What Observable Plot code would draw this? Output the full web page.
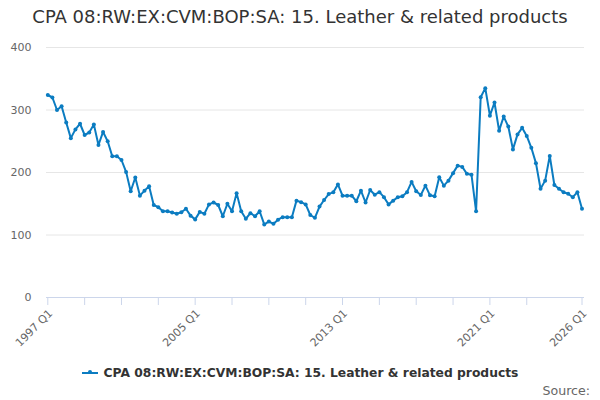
<!DOCTYPE html>
<html>
<head>
<meta charset="utf-8">
<script src="https://cdn.jsdelivr.net/npm/d3@7"></script>
<script src="https://cdn.jsdelivr.net/npm/@observablehq/plot@0.6"></script>
<style>
  body { margin: 0; background: #fff; font-family: "DejaVu Sans", sans-serif; }
  #wrap { position: relative; width: 600px; height: 400px; overflow: hidden; }
  #chart { position: absolute; left: 0; top: 0; }
  #title { position: absolute; top: 6px; left: 0; width: 600px; text-align: center; font-size: 18px; color: #333; white-space: nowrap; }
  #legend { position: absolute; top: 366px; left: 0; width: 600px; text-align: center; font-size: 12.3px; font-weight: bold; color: #333; white-space: nowrap; }
  #legend .sym { display: inline-block; position: relative; width: 16px; height: 2px; vertical-align: middle; margin-right: 6px; margin-top: -2px; }
  #legend .sym::after { content: ""; position: absolute; left: 6px; top: -2px; width: 4px; height: 4px; border-radius: 50%; }
  #source { position: absolute; top: 383px; right: 10px; font-size: 12.6px; color: #666; }
</style>
</head>
<body>
<div id="wrap">
  <div id="title"></div>
  <div id="chart"></div>
  <div id="legend"></div>
  <div id="source"></div>
</div>
<script>
const titleText = "CPA 08:RW:EX:CVM:BOP:SA: 15. Leather & related products";
const seriesName = "CPA 08:RW:EX:CVM:BOP:SA: 15. Leather & related products";
const sourceText = "Source:";
const lineColor = "#0b7cc1";

const firstYear = 1997;
const lastYear = 2026;
// quarterly values, 1997 Q1 .. 2026 Q1
const values = [
  324, 320, 300, 306, 280, 255, 269, 278, 260, 264, 277, 244,
  265, 250, 226, 226, 220, 201, 170, 192, 163, 171, 178, 148,
  144.5, 138, 138, 136, 134, 136.5, 142, 131, 125, 137, 134, 149,
  152, 148, 130, 150, 138, 167, 138, 126, 135, 130, 138, 117,
  121.5, 118, 124.5, 128.5, 128.5, 128.5, 155, 152.5, 149, 132, 127.5, 145.5,
  156, 165.5, 168.5, 181, 163, 163, 163, 154, 171, 152, 172, 164.5,
  168.5, 160.5, 149, 155, 160.5, 162, 168.5, 185, 170, 164, 179, 163.5,
  162, 192.5, 179, 187, 199, 211, 209, 198, 196.5, 138,
  320.5, 335, 291, 312, 267, 289.5, 273.5, 237, 261, 271.5, 258.5, 239.5,
  215, 174, 187, 226.5, 180, 174, 168.5, 166, 160.5, 168.5, 142
];
const tickQuarters = ["1997 Q1","1999 Q1","2001 Q1","2003 Q1","2005 Q1","2007 Q1","2009 Q1",
  "2011 Q1","2013 Q1","2015 Q1","2017 Q1","2019 Q1","2021 Q1","2023 Q1","2026 Q1"];
const tickLabels = ["1997 Q1","2005 Q1","2013 Q1","2021 Q1","2026 Q1"];
const yTicks = [0, 100, 200, 300, 400];

// category list
const quarters = [];
for (let y = firstYear; y <= lastYear; y++) for (let q = 1; q <= 4; q++) quarters.push(`${y} Q${q}`);
const periods = quarters.slice(0, values.length);
const data = periods.map((p, i) => ({period: p, value: values[i]}));

const chart = Plot.plot({
  width: 600,
  height: 400,
  marginTop: 47,
  marginBottom: 103,
  marginLeft: 46,
  marginRight: 16,
  style: {fontFamily: "DejaVu Sans, sans-serif", fontSize: "11px", background: "transparent"},
  x: {type: "point", domain: periods, padding: 0, insetLeft: 1.3, insetRight: 2.5},
  y: {domain: [0, 400]},
  marks: [
    Plot.ruleY([100, 200, 300, 400], {stroke: "#e6e6e6", strokeWidth: 1}),
    Plot.ruleY([0], {stroke: "#ccd6eb", strokeWidth: 1}),
    Plot.axisY({ticks: yTicks, tickSize: 0, tickPadding: 15, fill: "#666", label: null, fontSize: 11}),
    Plot.axisX({ticks: tickQuarters, tickSize: 8, stroke: "#ccd6eb", text: null, label: null}),
    Plot.axisX({ticks: tickLabels, tickSize: 0, tickRotate: -45, tickPadding: 14, dx: 3,
      fill: "#666", label: null, fontSize: 11}),
    Plot.line(data, {x: "period", y: "value", stroke: lineColor, strokeWidth: 2}),
    Plot.dot(data, {x: "period", y: "value", r: 2, fill: lineColor, stroke: null})
  ]
});
document.getElementById("chart").appendChild(chart);
document.getElementById("title").textContent = titleText;
document.getElementById("legend").innerHTML =
  `<span class="sym" style="background:${lineColor}"></span>` +
  `<span>${seriesName.replace(/&/g, "&amp;")}</span>`;
const st = document.createElement("style");
st.textContent = `#legend .sym::after{background:${lineColor};}`;
document.head.appendChild(st);
document.getElementById("source").textContent = sourceText;
</script>
</body>
</html>
